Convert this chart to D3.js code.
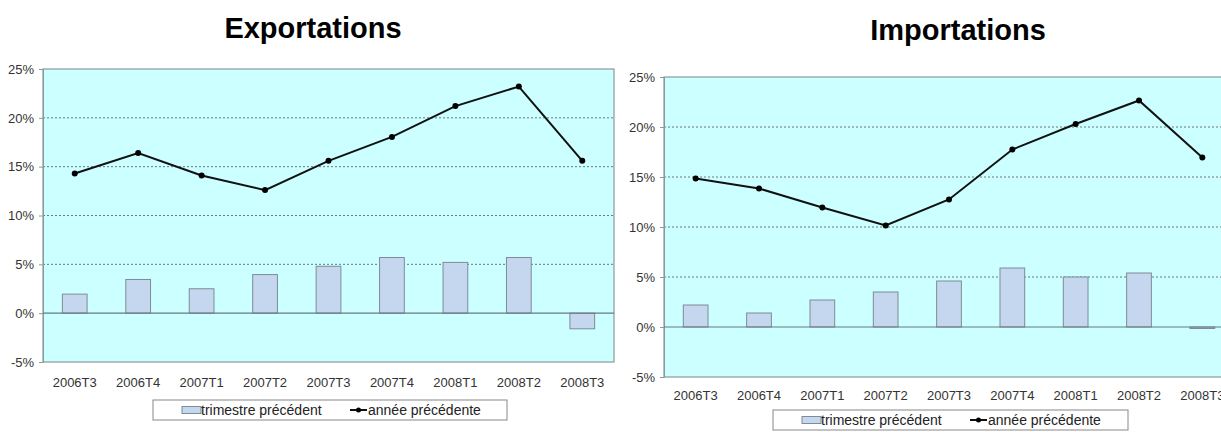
<!DOCTYPE html>
<html>
<head>
<meta charset="utf-8">
<script src="https://cdn.jsdelivr.net/npm/d3@7"></script>
<style>
  html, body { margin: 0; padding: 0; background: #fff; }
  svg { display: block; font-family: "Liberation Sans", Arial, sans-serif; }
  .title { font-weight: bold; font-size: 29px; fill: #000; }
  .tick text { font-size: 13px; fill: #333; }
  .legend text { font-size: 14px; fill: #222; }
</style>
</head>
<body>
<svg id="chart" width="1221" height="432"></svg>
<script>
const quarters = ["2006T3", "2006T4", "2007T1", "2007T2", "2007T3", "2007T4", "2008T1", "2008T2", "2008T3"];
const yTicks = [-5, 0, 5, 10, 15, 20, 25];

// exportations, % change
const expTrimestre = [1.95, 3.45, 2.5, 3.95, 4.8, 5.7, 5.2, 5.7, -1.6];
const expAnnee = [14.3, 16.4, 14.1, 12.6, 15.6, 18.05, 21.2, 23.2, 15.6];

// importations, % change
const impTrimestre = [2.2, 1.4, 2.7, 3.5, 4.6, 5.9, 5.0, 5.4, -0.15];
const impAnnee = [14.85, 13.85, 11.95, 10.15, 12.75, 17.75, 20.3, 22.65, 16.95];

const legendLabels = ["trimestre précédent", "année précédente"];

const svg = d3.select("#chart");

function drawChart(opts) {
  const { title, titleX, titleY, left, right, top, bottom, labelY, bars, line, legend } = opts;
  const g = svg.append("g");

  g.append("text")
    .attr("class", "title")
    .attr("x", titleX)
    .attr("y", titleY)
    .attr("text-anchor", "middle")
    .text(title);

  const x = d3.scaleBand().domain(quarters).range([left, right]);
  const y = d3.scaleLinear().domain([-5, 25]).range([bottom, top]);

  // plot area
  g.append("rect")
    .attr("x", left).attr("y", top)
    .attr("width", right - left).attr("height", bottom - top)
    .attr("fill", "#ccffff")
    .attr("stroke", "#8a9a9c")
    .attr("stroke-width", 1.2);

  // dashed gridlines
  g.append("g")
    .selectAll("line")
    .data(yTicks.filter((t) => t > 0 && t < 25))
    .join("line")
    .attr("x1", left).attr("x2", right)
    .attr("y1", (d) => y(d)).attr("y2", (d) => y(d))
    .attr("stroke", "#555")
    .attr("stroke-width", 0.8)
    .attr("stroke-dasharray", "2,2");

  // y axis
  const yAxis = g.append("g")
    .attr("transform", `translate(${left},0)`)
    .call(d3.axisLeft(y).tickValues(yTicks).tickFormat((d) => d + "%").tickSize(4).tickPadding(5))
    .attr("font-family", null)
    .attr("font-size", null);
  yAxis.select(".domain").attr("stroke", "#8a9a9c");
  yAxis.selectAll(".tick line").attr("stroke", "#8a9a9c");

  // x labels
  g.append("g")
    .selectAll("text")
    .data(quarters)
    .join("text")
    .attr("x", (d) => x(d) + x.bandwidth() / 2)
    .attr("y", labelY)
    .attr("text-anchor", "middle")
    .attr("font-size", 13)
    .attr("fill", "#333")
    .text((d) => d);

  // bars
  const bw = x.bandwidth() * 0.39;
  g.append("g")
    .selectAll("rect")
    .data(bars)
    .join("rect")
    .attr("x", (d, i) => x(quarters[i]) + (x.bandwidth() - bw) / 2)
    .attr("y", (d) => y(Math.max(0, d)))
    .attr("width", bw)
    .attr("height", (d) => Math.abs(y(d) - y(0)))
    .attr("fill", "#c5d7ee")
    .attr("stroke", "#7d8c96")
    .attr("stroke-width", 1);

  // zero line
  g.append("line")
    .attr("x1", left).attr("x2", right)
    .attr("y1", y(0)).attr("y2", y(0))
    .attr("stroke", "#6a7a80")
    .attr("stroke-width", 1.2);

  // line series
  const lineGen = d3.line()
    .x((d, i) => x(quarters[i]) + x.bandwidth() / 2)
    .y((d) => y(d));
  g.append("path")
    .datum(line)
    .attr("d", lineGen)
    .attr("fill", "none")
    .attr("stroke", "#111")
    .attr("stroke-width", 2);
  g.append("g")
    .selectAll("circle")
    .data(line)
    .join("circle")
    .attr("cx", (d, i) => x(quarters[i]) + x.bandwidth() / 2)
    .attr("cy", (d) => y(d))
    .attr("r", 3)
    .attr("fill", "#000");

  // legend
  const lg = g.append("g").attr("class", "legend");
  lg.append("rect")
    .attr("x", legend.x).attr("y", legend.y)
    .attr("width", legend.w).attr("height", legend.h)
    .attr("fill", "#fff")
    .attr("stroke", "#888");
  const cy = legend.y + legend.h / 2;
  lg.append("rect")
    .attr("x", legend.x + 29).attr("y", cy - 3.5)
    .attr("width", 19).attr("height", 7)
    .attr("fill", "#c5d7ee").attr("stroke", "#7d8c96");
  lg.append("text")
    .attr("x", legend.x + 48).attr("y", cy + 5)
    .text(legendLabels[0]);
  lg.append("line")
    .attr("x1", legend.x + 197).attr("x2", legend.x + 214)
    .attr("y1", cy).attr("y2", cy)
    .attr("stroke", "#111").attr("stroke-width", 2);
  lg.append("circle")
    .attr("cx", legend.x + 205.5).attr("cy", cy).attr("r", 2.5).attr("fill", "#000");
  lg.append("text")
    .attr("x", legend.x + 215).attr("y", cy + 5)
    .text(legendLabels[1]);
}

drawChart({
  title: "Exportations", titleX: 313, titleY: 38,
  left: 43, right: 614, top: 69, bottom: 362, labelY: 387,
  bars: expTrimestre, line: expAnnee,
  legend: { x: 153, y: 400, w: 354, h: 20 },
});

drawChart({
  title: "Importations", titleX: 958, titleY: 40,
  left: 664, right: 1234, top: 77, bottom: 377, labelY: 400,
  bars: impTrimestre, line: impAnnee,
  legend: { x: 773, y: 410, w: 355, h: 20 },
});
</script>
</body>
</html>
